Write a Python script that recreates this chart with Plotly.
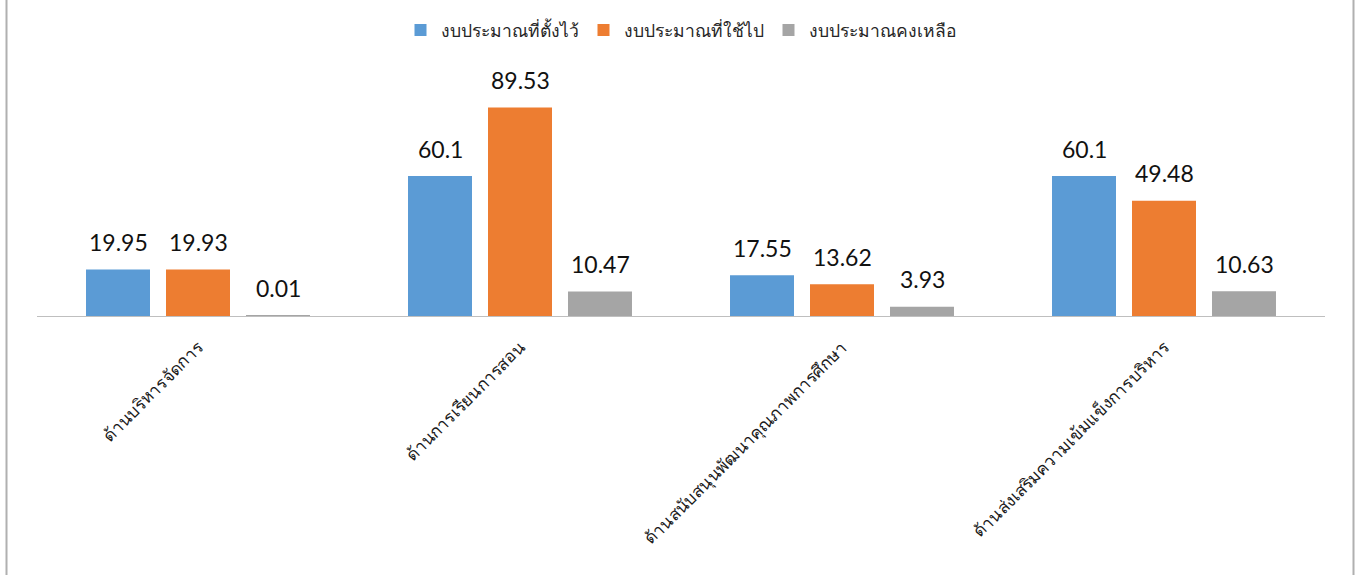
import plotly.graph_objects as go

categories = ["ด้านบริหารจัดการ", "ด้านการเรียนการสอน",
              "ด้านสนับสนุนพัฒนาคุณภาพการศึกษา", "ด้านส่งเสริมความเข้มแข็งการบริหาร"]
series_names = ["งบประมาณที่ตั้งไว้", "งบประมาณที่ใช้ไป", "งบประมาณคงเหลือ"]
budget_set = [19.95, 60.1, 17.55, 60.1]
budget_used = [19.93, 89.53, 13.62, 49.48]
budget_left = [0.01, 10.47, 3.93, 10.63]
colors = ["#5B9BD5", "#ED7D31", "#A5A5A5"]

W, H = 1359, 575
L, R, T, B = 37, 34, 40, 259
plot_w = W - L - R
plot_h = H - T - B

fig = go.Figure()
all_series = [budget_set, budget_used, budget_left]
for name, vals, col in zip(series_names, all_series, colors):
    fig.add_trace(go.Bar(
        x=categories, y=vals, name=name, marker_color=col,
        marker_line_width=0, cliponaxis=False,
    ))

# data labels above bars
slot_px = 80
for i, vals in enumerate(all_series):
    for cat, v in zip(categories, vals):
        fig.add_annotation(
            x=cat, y=v, xref="x", yref="y", text=f"{v:g}", showarrow=False,
            xshift=(i - 1) * slot_px, yshift=27.5, yanchor="middle",
            font=dict(size=23, color="#111111", family="Lato, sans-serif"),
        )

ymax = plot_h / 2.3456
fig.update_layout(
    width=W, height=H,
    margin=dict(l=L, r=R, t=T, b=B),
    paper_bgcolor="white", plot_bgcolor="white",
    barmode="group", bargap=0.2547, bargroupgap=0.2,
    font=dict(family="Lato, sans-serif", color="#262626"),
    legend=dict(orientation="h", x=0.5, xanchor="center",
                y=(316 - 28) / plot_h, yanchor="middle",
                font=dict(size=17.5, color="#262626"), itemwidth=30,
                traceorder="normal"),
    showlegend=True,
    xaxis=dict(showline=True, linecolor="#bfbfbf", linewidth=1, tickangle=-45,
               tickfont=dict(size=17, color="#1a1a1a"), automargin=False,
               ticks="", showgrid=False, ticklabelstandoff=14),
    yaxis=dict(range=[0, ymax], visible=False, showgrid=False, zeroline=False),
)

# outer chart frame (left and right edges)
for px in (6.5, 1353.5):
    xp = (px - L) / plot_w
    fig.add_shape(type="line", xref="paper", yref="paper", x0=xp, x1=xp, y0=-1.2, y1=1.3,
                  line=dict(color="#b0b0b0", width=2))

fig.write_html("out.html", config={"displayModeBar": False},
               post_script="document.body.style.margin='0';")
